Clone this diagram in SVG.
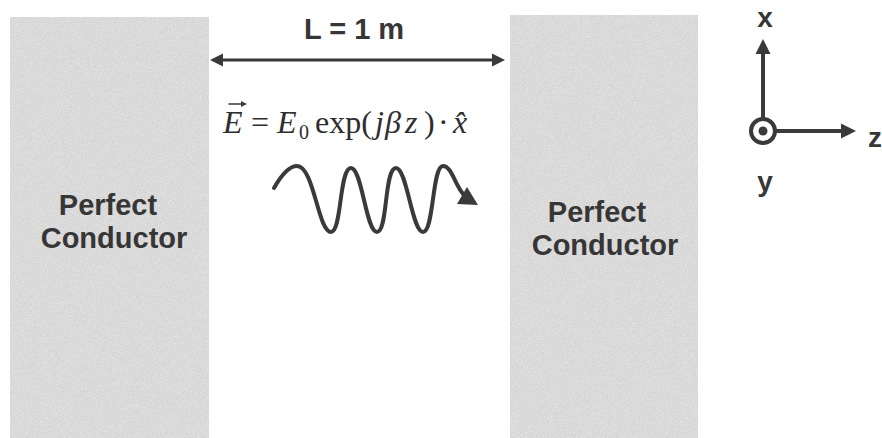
<svg xmlns="http://www.w3.org/2000/svg" width="882" height="438" viewBox="0 0 882 438">
<defs>
<style>
.slab{fill:#e2e2e2;}
.lbl{font-family:"Liberation Sans",Arial,sans-serif;font-weight:bold;fill:#363636;text-anchor:middle;}
.eq{font-family:"Liberation Serif","Times New Roman",serif;fill:#2e2e2e;font-size:32px;}
.it{font-style:italic;}
.ln{stroke:#3a3a3a;fill:none;stroke-linecap:round;}
.head{fill:#3a3a3a;}
</style>
<filter id="grain" x="0" y="0" width="100%" height="100%">
<feTurbulence type="fractalNoise" baseFrequency="1.2" numOctaves="2" seed="5" result="n"/>
<feColorMatrix in="n" type="matrix" values="1 0 0 0 0  1 0 0 0 0  1 0 0 0 0  0 0 0 0 0.22" result="g"/>
<feComposite in="g" in2="SourceGraphic" operator="in" result="gc"/>
<feMerge><feMergeNode in="SourceGraphic"/><feMergeNode in="gc"/></feMerge>
</filter>
</defs>
<rect width="882" height="438" fill="#ffffff"/>

<g id="left-conductor">
<rect class="slab" x="10" y="17" width="199" height="421" filter="url(#grain)"/>
<text class="lbl" font-size="29" x="108" y="215">Perfect</text>
<text class="lbl" font-size="29" x="114" y="248">Conductor</text>
</g>

<g id="right-conductor">
<rect class="slab" x="510" y="15" width="188" height="423" filter="url(#grain)"/>
<text class="lbl" font-size="29" x="597" y="222">Perfect</text>
<text class="lbl" font-size="29" x="605" y="255">Conductor</text>
</g>

<g id="length">
<text class="lbl" font-size="29" x="354" y="39">L = 1 m</text>
<line class="ln" x1="218" y1="60" x2="497" y2="60" stroke-width="3"/>
<path class="head" d="M210,60 L223,53.5 L223,66.5 Z"/>
<path class="head" d="M505,60 L492,53.5 L492,66.5 Z"/>
</g>

<g id="equation">
<text class="eq" y="133"><tspan class="it" x="223">E</tspan><tspan x="251">=</tspan><tspan class="it" x="277">E</tspan><tspan x="299" font-size="20" dy="6">0</tspan><tspan x="315" dy="-6">exp(</tspan><tspan class="it" x="375">j</tspan><tspan class="it" x="385">β</tspan><tspan class="it" x="405">z</tspan><tspan x="424">)</tspan><tspan x="438">·</tspan><tspan class="it" x="453">x̂</tspan></text>
<path class="ln" stroke-width="1.6" d="M229,104 L243,104"/>
<path class="head" d="M247,104 L241,101 L241,107 Z"/>
</g>

<g id="wave">
<path class="ln" stroke-width="4" d="M274,188 C282,174 289,166 297,166 C314,166 318,232 331,232 C342,232 339,168 351,168 C362,168 366,232 377,232 C388,232 384,168 396,168 C407,168 412,232 423,232 C434,232 432,166 443,166 C452,166 455,186 464,195"/>
<path class="head" d="M478,205 L457,204 L467,187 Z"/>
</g>

<g id="axes">
<line class="ln" x1="763" y1="52" x2="763" y2="117" stroke-width="4"/>
<path class="head" d="M763,39 L755.5,54 L770.5,54 Z"/>
<circle cx="763" cy="131" r="12" fill="none" stroke="#3a3a3a" stroke-width="4"/>
<circle cx="763" cy="131" r="4.5" fill="#3a3a3a"/>
<line class="ln" x1="777" y1="131" x2="844" y2="131" stroke-width="4"/>
<path class="head" d="M856,131 L841,123.5 L841,138.5 Z"/>
<text class="lbl" font-size="28" x="765" y="27">x</text>
<text class="lbl" font-size="28" x="875" y="147">z</text>
<text class="lbl" font-size="28" x="765" y="191">y</text>
</g>
</svg>
